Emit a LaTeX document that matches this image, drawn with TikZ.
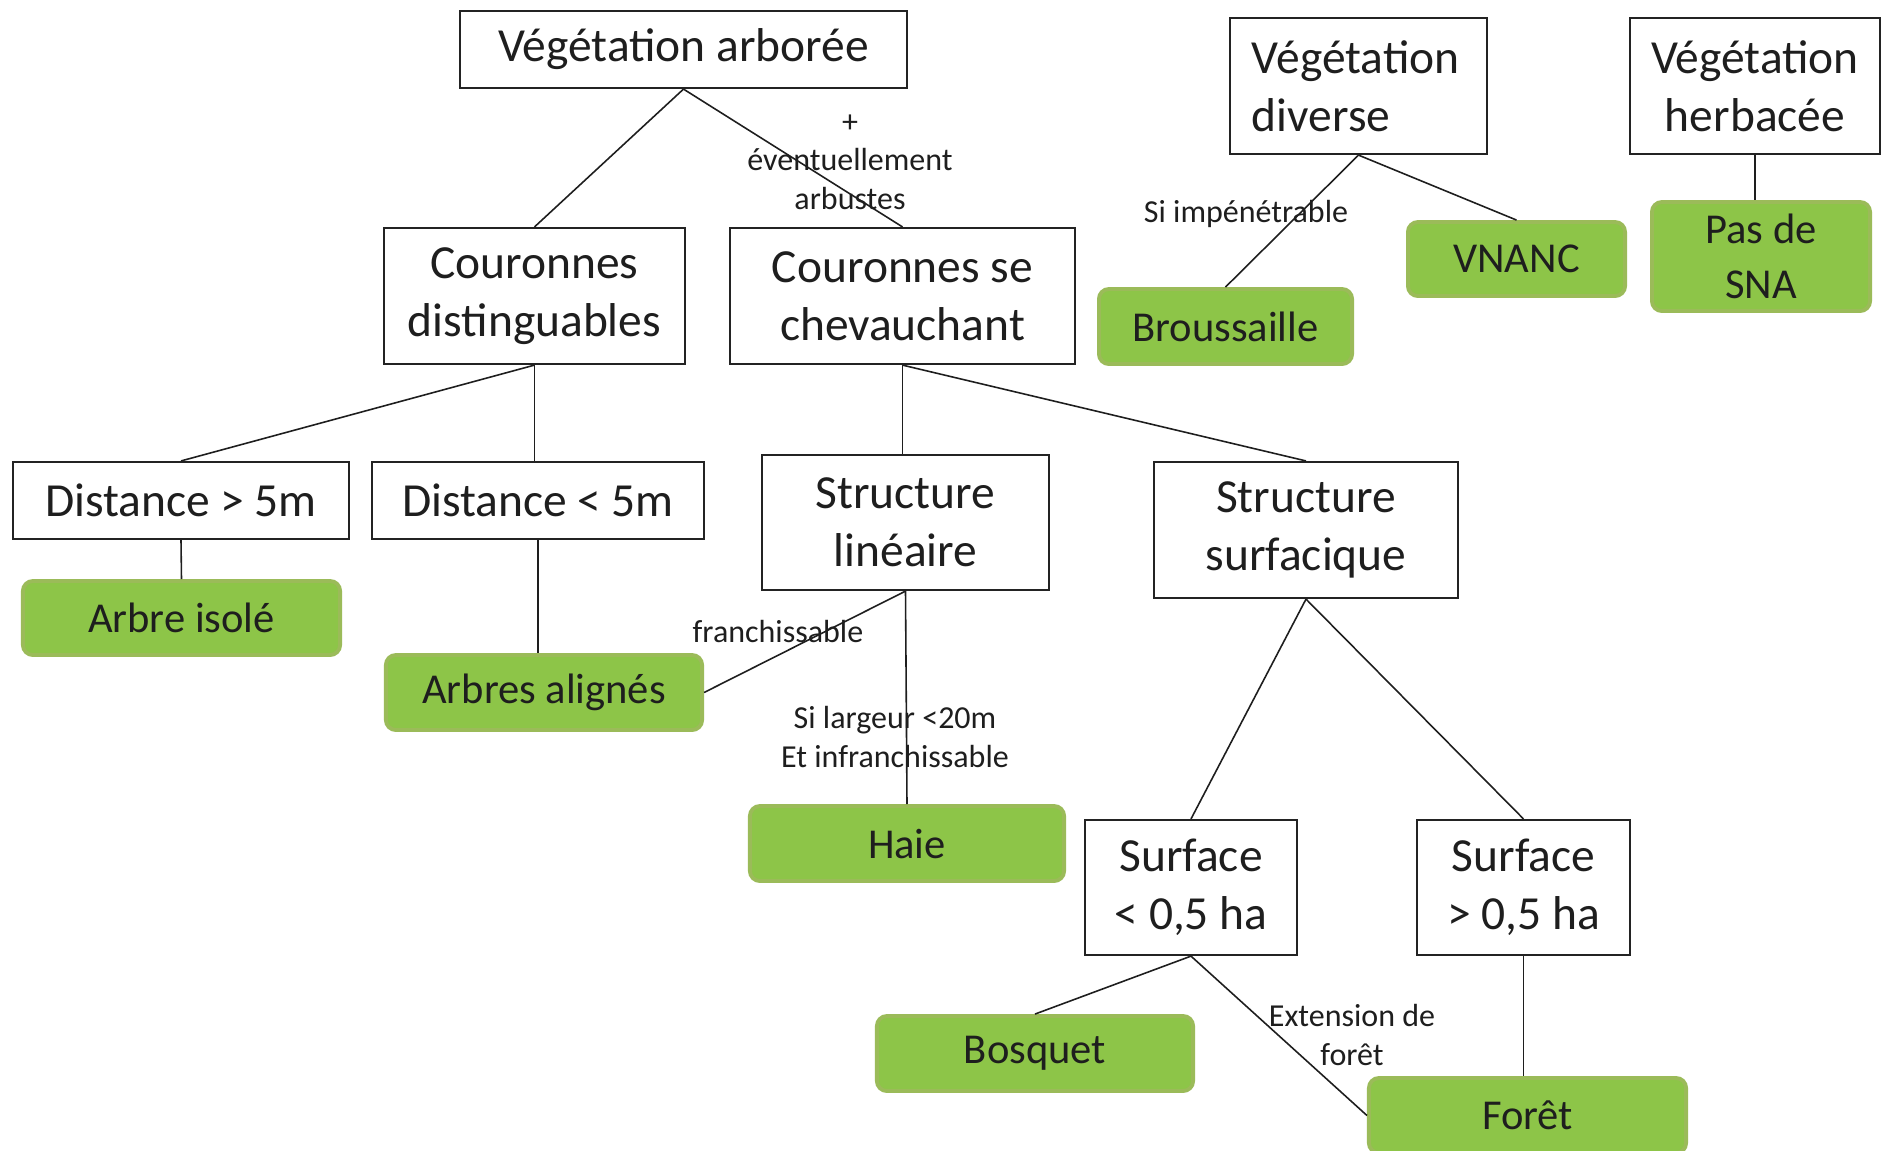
\documentclass[tikz,border=0pt]{standalone}
\usepackage{fontspec}
\setmainfont{Carlito}
\definecolor{ink}{RGB}{30,30,30}
\definecolor{boxline}{RGB}{35,35,35}
\definecolor{leafgreen}{RGB}{141,197,72}
\definecolor{leafline}{RGB}{155,187,89}
\newcommand{\boxfont}{\fontsize{13.5}{16.4}\selectfont}
\newcommand{\leaffont}{\fontsize{12.1}{15.6}\selectfont}
\newcommand{\notefont}{\fontsize{9.1}{10.9}\selectfont}
\tikzset{
	box/.style={draw=boxline, fill=white, line width=0.6pt, align=center, text=ink, font=\boxfont, inner sep=0pt},
	leaf/.style={draw=leafline, fill=leafgreen, line width=1.1pt, rounded corners=0.1cm, align=center, text=ink, font=\leaffont, inner sep=0pt},
	note/.style={align=center, text=ink, font=\notefont, inner sep=0pt},
	edge/.style={draw=ink, line width=0.45pt}
}
\begin{document}
\begin{tikzpicture}[x=0.01cm, y=-0.01cm]
		\useasboundingbox (0, 0) rectangle (1881, 1150);
		\clip (0, 0) rectangle (1881, 1150);

		\node[box, minimum width=4.47cm, minimum height=0.77cm] (va) at (683.5, 49.5) {Végétation arborée};
		\node[box, minimum width=3.01cm, minimum height=1.36cm] (cd) at (534.5, 296) {Couronnes\\distinguables};
		\node[box, minimum width=3.45cm, minimum height=1.36cm] (csc) at (902.5, 296) {Couronnes se\\chevauchant};
		\node[box, minimum width=2.57cm, minimum height=1.36cm, text width=2.13cm, align=left] (vd) at (1358.5, 86) {Végétation\\diverse};
		\node[box, minimum width=2.50cm, minimum height=1.36cm] (vh) at (1755, 86) {Végétation\\herbacée};
		\node[box, minimum width=3.36cm, minimum height=0.77cm] (dsup) at (181, 500.5) {Distance > 5m};
		\node[box, minimum width=3.32cm, minimum height=0.77cm] (dinf) at (538, 500.5) {Distance < 5m};
		\node[box, minimum width=2.87cm, minimum height=1.35cm] (sl) at (905.5, 522.5) {Structure\\linéaire};
		\node[box, minimum width=3.04cm, minimum height=1.36cm] (ss) at (1306, 530) {Structure\\surfacique};
		\node[box, minimum width=2.12cm, minimum height=1.35cm] (sinf) at (1191, 887.5) {Surface\\< 0,5 ha};
		\node[box, minimum width=2.13cm, minimum height=1.35cm] (ssup) at (1523.5, 887.5) {Surface\\> 0,5 ha};

		\node[leaf, minimum width=2.53cm, minimum height=0.75cm] (brou) at (1225.5, 326.5) {Broussaille};
		\node[leaf, minimum width=2.17cm, minimum height=0.74cm] (vnanc) at (1516.5, 259) {VNANC};
		\node[leaf, minimum width=2.18cm, minimum height=1.09cm] (sna) at (1761, 256.5) {Pas de\\SNA};
		\node[leaf, minimum width=3.17cm, minimum height=0.74cm] (isole) at (181.5, 618) {Arbre isolé};
		\node[leaf, minimum width=3.16cm, minimum height=0.75cm] (aligne) at (544, 692.5) {Arbres alignés};
		\node[leaf, minimum width=3.14cm, minimum height=0.75cm] (haie) at (907, 843.5) {Haie};
		\node[leaf, minimum width=3.16cm, minimum height=0.75cm] (bosquet) at (1035, 1053.5) {Bosquet};
		\node[leaf, minimum width=3.17cm, minimum height=0.75cm] (foret) at (1527.5, 1115.5) {Forêt};

		\draw [edge]	(va.south) to (cd.north);
		\draw [edge]	(va.south) to (csc.north);
		\draw [edge]	(cd.south) to (dsup.north);
		\draw [edge]	(cd.south) to (cd.south |- dinf.north);
		\draw [edge]	(dsup.south) to (isole.north);
		\draw [edge]	(dinf.south) to (dinf.south |- aligne.north);
		\draw [edge]	(csc.south) to (csc.south |- sl.north);
		\draw [edge]	(csc.south) to (ss.north);
		\draw [edge]	(sl.south) to (aligne.east);
		\draw [edge]	(sl.south) to (haie.north);
		\draw [edge]	(ss.south) to (sinf.north);
		\draw [edge]	(ss.south) to (ssup.north);
		\draw [edge]	(sinf.south) to (bosquet.north);
		\draw [edge]	(sinf.south) to (foret.west);
		\draw [edge]	(ssup.south) to (ssup.south |- foret.north);
		\draw [edge]	(vd.south) to (brou.north);
		\draw [edge]	(vd.south) to (vnanc.north);
		\draw [edge]	(vh.south) to (vh.south |- sna.north);

		\node[note] (arbustes) at (850, 162) {+\\éventuellement\\arbustes};
		\node[note] (franch) at (778, 631) {franchissable};
		\node[note] (largeur) at (895, 737) {Si largeur <20m\\Et infranchissable};
		\node[note] (impen) at (1246, 214) {Si impénétrable};
		\node[note] (extension) at (1352, 1035) {Extension de\\forêt};
	\end{tikzpicture}
\end{document}
